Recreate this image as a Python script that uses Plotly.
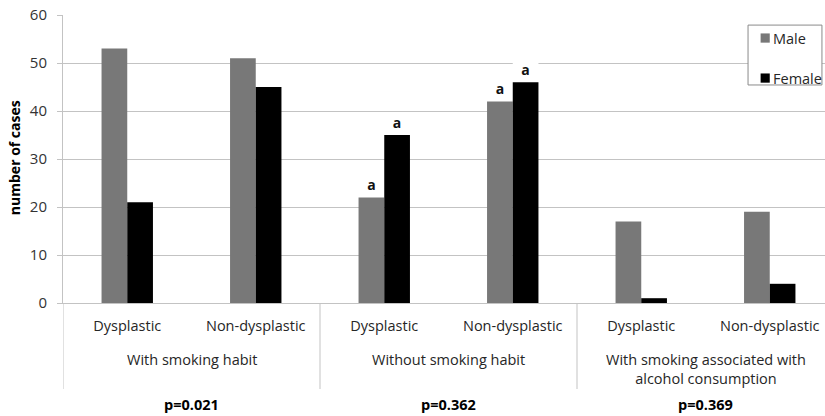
import plotly.graph_objects as go

# ---- data ----
subcategories = ["Dysplastic", "Non-dysplastic", "Dysplastic", "Non-dysplastic", "Dysplastic", "Non-dysplastic"]
groups = ["With smoking habit", "Without smoking habit", "With smoking associated with<br>alcohol consumption"]
p_values = ["p=0.021", "p=0.362", "p=0.369"]
series_names = ["Male", "Female"]
male = [53, 51, 22, 42, 17, 19]
female = [21, 45, 35, 46, 1, 4]
male_marks = ["", "", "a", "a", "", ""]
female_marks = ["", "", "a", "a", "", ""]
y_ticks = [0, 10, 20, 30, 40, 50, 60]

FONT = "Open Sans"
GRID = "#c3c3c3"
BARGAP = 0.6
COLORS = ["#787878", "#000000"]
x = list(range(len(subcategories)))

fig = go.Figure()
for name, vals, marks, col in zip(series_names, [male, female], [male_marks, female_marks], COLORS):
    fig.add_trace(go.Bar(
        x=x, y=vals, name=name, marker=dict(color=col, line=dict(width=0)),
        text=marks, textposition="outside", cliponaxis=False,
        textfont=dict(family=FONT, size=14, color="#111111", weight="bold"),
        showlegend=False))

shapes = []
# white patch breaking gridline behind the top "a" label (between grid and traces)
half = (1 - BARGAP) / 4
idx_top = max(range(len(female)), key=lambda i: female[i] if female_marks[i] else -1)
shapes.append(dict(type="rect", layer="between", xref="x", yref="y",
                   x0=idx_top + half - 0.1, x1=idx_top + half + 0.1, y0=49, y1=51,
                   fillcolor="white", line=dict(width=0)))

# multi-level category separators
n_per_group = len(subcategories) // len(groups)
for g in range(len(groups) + 1):
    xb = g * n_per_group - 0.5
    shapes.append(dict(type="line", xref="x", yref="paper", x0=xb, x1=xb, y0=0, y1=-0.2986,
                       line=dict(color=GRID, width=1)))

annotations = []
for g, (label, p) in enumerate(zip(groups, p_values)):
    xc = g * n_per_group + (n_per_group - 1) / 2
    annotations.append(dict(text=label, xref="x", yref="paper", x=xc, y=-0.155,
                            xanchor="center", yanchor="top", showarrow=False,
                            font=dict(family=FONT, size=14.5, color="#262626")))
    annotations.append(dict(text="<b>" + p + "</b>", xref="x", yref="paper", x=xc, y=-0.354,
                            xanchor="center", yanchor="middle", showarrow=False,
                            font=dict(family=FONT, size=14.5, color="#000000")))

annotations.append(dict(text="<b>number of cases</b>", xref="paper", yref="paper",
                        x=-0.0643, y=0.503, textangle=-90, xanchor="center", yanchor="middle",
                        showarrow=False, font=dict(family=FONT, size=14, color="#000000")))

# legend box (drawn to match the reference's compact legend)
shapes.append(dict(type="rect", xref="paper", yref="paper", x0=0.899, x1=0.996, y0=0.757, y1=0.965,
                   fillcolor="white", line=dict(color="#8a8a8a", width=1), layer="above"))
leg_y = [0.920, 0.781]
for name, col, ly in zip(series_names, COLORS, leg_y):
    shapes.append(dict(type="rect", xref="paper", yref="paper", x0=0.9155, x1=0.9275,
                       y0=ly - 0.016, y1=ly + 0.016, fillcolor=col, line=dict(width=0), layer="above"))
    annotations.append(dict(text=name, xref="paper", yref="paper", x=0.929, y=ly,
                            xanchor="left", yanchor="middle", showarrow=False,
                            font=dict(family=FONT, size=14.5, color="#262626")))

fig.update_layout(
    width=825, height=416,
    margin=dict(l=63, r=0, t=15, b=113),
    paper_bgcolor="white", plot_bgcolor="white",
    barmode="group", bargap=BARGAP, bargroupgap=0,
    shapes=shapes, annotations=annotations,
    showlegend=False,
    xaxis=dict(range=[-0.5, 5.43], tickmode="array", tickvals=x, ticktext=subcategories,
               showgrid=False, zeroline=False, showline=True, linecolor=GRID, linewidth=1,
               ticks="", ticklabelstandoff=10,
               tickfont=dict(family=FONT, size=14.5, color="#262626")),
    yaxis=dict(range=[0, 60], tickvals=y_ticks, showgrid=True, gridcolor=GRID, gridwidth=1,
               zeroline=False, showline=True, linecolor=GRID, linewidth=1,
               ticks="outside", ticklen=5, tickcolor=GRID, ticklabelstandoff=7,
               tickfont=dict(family=FONT, size=15, color="#333333")),
)

fig.write_html("out.html", config={"displayModeBar": False},
               post_script="document.body.style.margin='0';document.body.style.overflow='hidden';")
